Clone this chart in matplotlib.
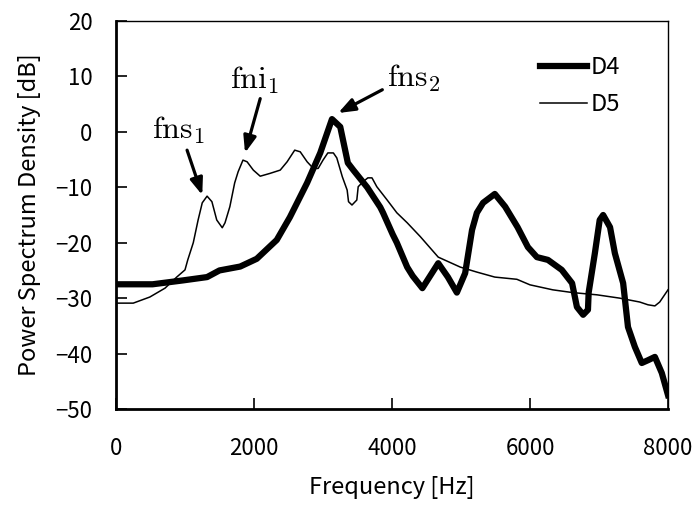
import matplotlib
matplotlib.use('Agg')
import matplotlib.pyplot as plt

# spectrum of D4 (thick) and D5 (thin)
d4_freq = [0, 530, 970, 1320, 1500, 1800, 2040, 2330, 2520, 2770, 2960, 3130,
           3250, 3360, 3440, 3640, 3830, 3870, 4010, 4070, 4220, 4300, 4440,
           4670, 4810, 4940, 5060, 5160, 5230, 5320, 5490, 5640, 5820, 5970,
           6100, 6260, 6460, 6610, 6680, 6770, 6840, 6850, 6940, 7010, 7060,
           7160, 7230, 7350, 7420, 7520, 7620, 7710, 7810, 7910, 8000]
d4_db = [-27.5, -27.5, -26.8, -26.2, -25.0, -24.3, -22.9, -19.5, -15.4, -9.2,
         -3.8, 2.3, 0.9, -5.6, -6.9, -10.0, -13.6, -14.6, -18.5, -20.0, -24.4,
         -26.0, -28.2, -23.7, -26.2, -29.0, -25.5, -17.7, -14.6, -12.8, -11.2,
         -13.5, -17.2, -20.8, -22.6, -23.1, -24.9, -27.3, -31.6, -33.0, -32.1,
         -29.0, -21.9, -15.9, -15.0, -17.2, -21.9, -27.3, -35.2, -38.8, -41.7,
         -41.2, -40.6, -43.5, -47.5]

d5_freq = [0, 250, 490, 710, 880, 1000, 1040, 1120, 1190, 1250, 1320, 1390,
           1460, 1540, 1580, 1650, 1720, 1770, 1840, 1900, 1990, 2090, 2230,
           2380, 2480, 2590, 2670, 2770, 2860, 2930, 3000, 3070, 3150, 3200,
           3280, 3350, 3370, 3420, 3490, 3510, 3580, 3650, 3710, 3780, 3930,
           4070, 4220, 4410, 4670, 4990, 5230, 5490, 5810, 6000, 6330, 6620,
           6970, 7300, 7590, 7710, 7810, 7880, 8000]
d5_db = [-30.9, -30.9, -29.8, -28.2, -26.2, -24.9, -23.1, -20.0, -15.9, -12.8,
         -11.6, -12.6, -15.9, -17.3, -16.4, -13.5, -9.2, -7.2, -5.1, -5.4,
         -6.9, -8.0, -7.5, -6.9, -5.4, -3.3, -3.6, -5.4, -6.6, -6.6, -5.1,
         -3.8, -3.8, -4.7, -8.1, -10.5, -12.6, -13.2, -12.3, -9.9, -9.0, -8.3,
         -8.3, -9.9, -12.3, -14.6, -16.4, -18.9, -22.6, -24.4, -25.3, -26.2,
         -26.6, -27.6, -28.5, -29.0, -29.4, -30.0, -30.7, -31.2, -31.4, -30.7,
         -28.5]

# peak labels: text, text position, arrow tail, arrow head
peak_labels = [r'$\mathrm{fns}_1$', r'$\mathrm{fni}_1$', r'$\mathrm{fns}_2$']
label_pos = [(900, 0.3), (2010, 9.4), (4320, 9.7)]
arrow_tail = [(1030, -3.3), (2090, 6.0), (3860, 7.6)]
arrow_head = [(1250, -11.4), (1870, -3.8), (3220, 3.4)]

plt.rcParams['font.family'] = ['Noto Sans CJK JP', 'DejaVu Sans']
plt.rcParams['mathtext.fontset'] = 'cm'

fig = plt.figure(figsize=(6.95, 5.05), dpi=100)
ax = fig.add_axes([116/695, 96/505, 552/695, 388/505])

ax.plot(d4_freq, d4_db, color='black', lw=4.5, label='D4', solid_joinstyle='round')
ax.plot(d5_freq, d5_db, color='black', lw=1.1, label='D5')

for txt, pos, tail, head in zip(peak_labels, label_pos, arrow_tail, arrow_head):
    ax.text(pos[0], pos[1], txt, fontsize=23, ha='center', va='center')
    ax.annotate('', xy=head, xytext=tail,
                arrowprops=dict(arrowstyle='-|>,head_length=1.0,head_width=0.38',
                                lw=2.3, color='black', shrinkA=0, shrinkB=0))

ax.set_xlim(0, 8000)
ax.set_ylim(-50, 20)
ax.set_xticks([0, 2000, 4000, 6000, 8000])
ax.set_yticks(range(-50, 21, 10))
ax.tick_params(direction='in', length=8, width=1.2, labelsize=16)
ax.tick_params(axis='x', pad=20)
ax.tick_params(axis='y', pad=17)

ax.spines['left'].set_linewidth(2)
ax.spines['bottom'].set_linewidth(2)
ax.spines['top'].set_linewidth(1)
ax.spines['right'].set_linewidth(1)

ax.set_xlabel('Frequency [Hz]', fontsize=17, labelpad=12)
ax.set_ylabel('Power Spectrum Density [dB]', fontsize=17, labelpad=10)

ax.legend(loc='upper left', bbox_to_anchor=(0.768, 0.91), frameon=False,
          fontsize=17, handlelength=2.0, handletextpad=0.15, labelspacing=0.6,
          borderaxespad=0, borderpad=0)

fig.savefig('out.png', dpi=100)
